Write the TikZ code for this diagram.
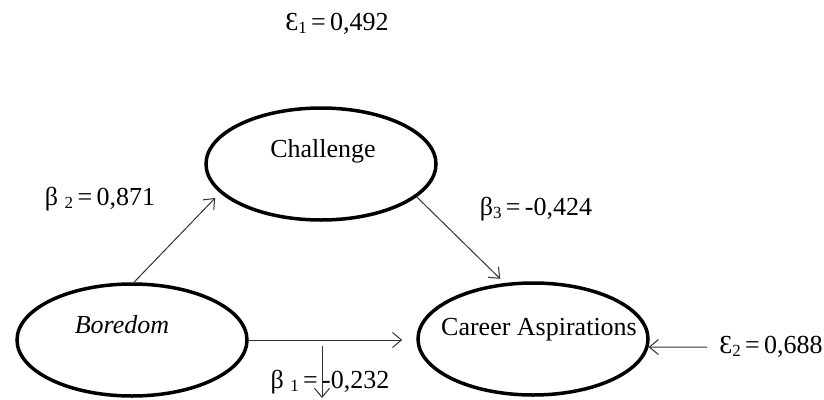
\documentclass[tikz,border=0pt]{standalone}
\usepackage{fontspec}
\setmainfont{Liberation Serif}
\usetikzlibrary{arrows.meta,shapes.geometric}
\newcommand{\mysub}[1]{\raisebox{-0.12em}{\fontsize{17}{19}\selectfont #1}}
\begin{document}
\begin{tikzpicture}[x=1pt,y=-1pt,
  latent/.style={draw, ellipse, line width=3.5pt, minimum width=230pt, minimum height=112pt, inner sep=0pt},
  lbl/.style={anchor=base, inner sep=0pt, font=\fontsize{26}{30}\selectfont},
  arr/.style={draw=black!80, line width=1pt, -{Straight Barb[length=9pt,width=15pt]}}]
\useasboundingbox (0,0) rectangle (824,399);

\node[latent] (bor) at (132,340) {};
\node[latent] (cha) at (321,164) {};
\node[latent] (car) at (533,339) {};

\node[lbl] (borl) at (122,333) {\itshape Boredom};
\node[lbl] (chal) at (323,157) {Challenge};
\node[lbl] (carl) at (539,335) {Career Aspirations};

\node[lbl] (e1) at (337,30) {Ɛ\mysub{1}\,=\,0,492};
\node[lbl] (b2) at (100,205) {β \mysub{2}\,=\,0,871};
\node[lbl] (b3) at (536,215) {β\mysub{3}\,=\,-0,424};
\node[lbl] (b1) at (330,388) {β \mysub{1}\,=\,-0,232};
\node[lbl] (e2) at (771,353) {Ɛ\mysub{2}\,=\,0,688};

\draw[arr, shorten >=7pt] (bor.88) -- (cha.196);
\draw[arr, shorten >=6pt] (cha.-19) -- (car.117);
\draw[arr, shorten >=14pt] (bor.east) -- (bor.east -| car.west);
\coordinate (e2s) at (707,347);
\draw[arr] (e2s) -- (car.-4);
\coordinate (b1s) at (322,346);
\coordinate (b1e) at (322,398);
\draw[arr] (b1s) -- (b1e);
\end{tikzpicture}
\end{document}
